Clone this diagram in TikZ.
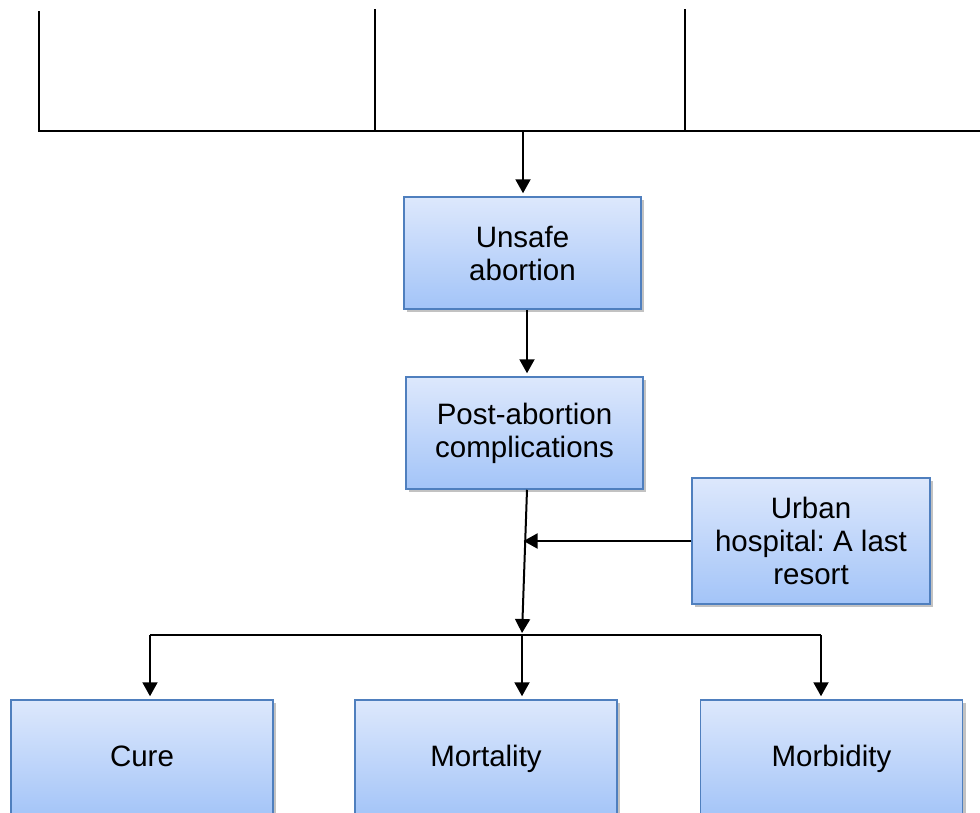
\documentclass[tikz,border=0pt]{standalone}
\usepackage{fontspec}
\setmainfont{Liberation Sans}
\usetikzlibrary{positioning,arrows.meta,shadows,calc}
\definecolor{boxtop}{HTML}{DDE8FC}
\definecolor{boxbottom}{HTML}{A3C4F8}
\definecolor{boxline}{HTML}{4F7FBE}
\frenchspacing
\tikzset{
	flowbox/.style={draw=boxline, line width=1.5pt, top color=boxtop, bottom color=boxbottom,
		drop shadow={shadow xshift=3pt, shadow yshift=-3pt, fill=black!60, opacity=0.4},
		align=center, inner sep=0pt, font=\fontsize{29.5}{33}\selectfont},
	endbox/.style={flowbox, minimum width=262pt, minimum height=118pt, text height=21pt, text depth=6pt},
	link/.style={line width=2pt},
	linkarrow/.style={link, -{Triangle[length=14pt,width=15pt]}, shorten >=3pt}
}

\begin{document}
\begin{tikzpicture}[x=1pt, y=-1pt]

	\path[use as bounding box, clip] (0,0) rectangle (980,812);

	\coordinate (topL) at (39,131);
	\coordinate (topR) at (980,131);
	\coordinate (feed) at (523,131);
	\coordinate (split) at (522,634);
	\coordinate (barL) at (150,635);
	\coordinate (barR) at (821,635);

	\draw[link] (39,11) -- (topL) -- (topR);
	\draw[link] (375,9) -- (375,131);
	\draw[link] (685,9) -- (685,131);

	\node[flowbox, minimum width=237pt, minimum height=112pt] (unsafe) at (522.5,253) {Unsafe\\abortion};
	\node[flowbox, minimum width=237pt, minimum height=112pt] (postab) at (524.5,433) {Post-abortion\\complications};
	\node[flowbox, minimum width=238pt, minimum height=126pt] (urban) at (811,541) {Urban\\hospital: A last\\resort};

	\node[endbox] (cure) at (142,759) {Cure};
	\node[endbox] (mortality) at (486,759) {Mortality};
	\node[endbox] (morbidity) at (831.5,759) {Morbidity};

	\draw[linkarrow] (feed) -- (feed |- unsafe.north);
	\draw[linkarrow] ([xshift=4.5pt]unsafe.south) -- ([xshift=2.5pt]postab.north);
	\draw[linkarrow, shorten >=1pt] ([xshift=2.5pt]postab.south) -- (split);

	\coordinate (hit) at ($(postab.south)!0.38!(split)$);
	\draw[linkarrow, shorten >=0pt] (urban.west) -- (hit |- urban.west);

	\draw[link] (barL) -- (barR);
	\draw[linkarrow] (barL) -- (barL |- cure.north);
	\draw[linkarrow] (split |- barL) -- (split |- mortality.north);
	\draw[linkarrow] (barR) -- (barR |- morbidity.north);

\end{tikzpicture}
\end{document}
